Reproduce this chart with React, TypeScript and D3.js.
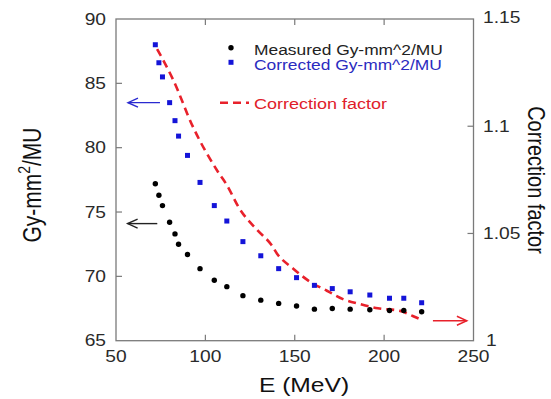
import * as d3 from "d3";

// energies (MeV) where measurements were taken
const energies = [72, 74, 76, 80, 83, 85, 90, 97, 105, 112, 121, 131, 141, 151, 161, 171, 181, 192, 203, 211, 221];
// measured Gy-mm^2/MU
const measured = [77.2, 76.3, 75.5, 74.2, 73.3, 72.5, 71.7, 70.6, 69.7, 69.2, 68.5, 68.15, 67.9, 67.7, 67.45, 67.5, 67.45, 67.4, 67.35, 67.35, 67.25];
// corrected Gy-mm^2/MU
const corrected = [88.0, 86.6, 85.5, 83.5, 82.1, 80.9, 79.4, 77.3, 75.5, 74.3, 72.7, 71.6, 70.6, 69.9, 69.3, 69.05, 68.8, 68.55, 68.3, 68.3, 67.95];
// correction factor curve (right axis)
const cfEnergy = [73, 82, 93, 107, 112, 119, 129, 137, 140, 149, 158.5, 168, 177, 186.5, 196.5, 209, 216, 221];
const cfValue = [1.136, 1.1216, 1.0998, 1.0788, 1.0726, 1.0617, 1.0516, 1.0446, 1.0407, 1.0337, 1.0275, 1.0233, 1.0194, 1.0171, 1.0151, 1.0139, 1.0115, 1.0097];

const xTicks = [50, 100, 150, 200, 250];
const yLeftTicks = [65, 70, 75, 80, 85, 90];
const yRightTicks = [1, 1.05, 1.1, 1.15];
const yRightLabels = ["1", "1.05", "1.1", "1.15"];

const legendItems = ["Measured Gy-mm^2/MU", "Corrected Gy-mm^2/MU", "Correction factor"];

const W = 551;
const H = 399;
const margin = { top: 19, right: 77.5, bottom: 58.3, left: 116 };
const SX = 1.2; // the picture is stretched sideways
const FONT = "Arial, 'Liberation Sans', sans-serif";

export default function App() {
  const x = d3.scaleLinear().domain([50, 250]).range([margin.left, W - margin.right]);
  const yL = d3.scaleLinear().domain([65, 90]).range([H - margin.bottom, margin.top]);
  const yR = d3.scaleLinear().domain([1, 1.15]).range([H - margin.bottom, margin.top]);

  const [x0, x1] = x.range();
  const [yb, yt] = yL.range();

  const cfLine = d3
    .line<number>()
    .x((_, i) => x(cfEnergy[i]))
    .y((d) => yR(d))
    .curve(d3.curveMonotoneX);

  const axisColor = "#7a7a7a";
  const labelColor = "#2a2a2a";
  const tick = 6;

  const stretched = (
    key: string,
    tx: number,
    ty: number,
    text: React.ReactNode,
    opts: { size: number; anchor?: string; fill?: string; rotate?: number; dy?: string }
  ) => (
    <g key={key} transform={`translate(${tx},${ty}) scale(${SX},1)${opts.rotate ? ` rotate(${opts.rotate})` : ""}`}>
      <text
        fontFamily={FONT}
        fontSize={opts.size}
        textAnchor={opts.anchor || "start"}
        fill={opts.fill || labelColor}
        dy={opts.dy || "0"}
      >
        {text}
      </text>
    </g>
  );

  const arrow = (key: string, xa: number, xb: number, y: number, color: string) => {
    // arrowhead at xb
    const dir = xb > xa ? 1 : -1;
    return (
      <g key={key} stroke={color} strokeWidth={1.4} fill="none">
        <line x1={xa} x2={xb} y1={y} y2={y} />
        <polyline points={`${xb - dir * 10},${y - 4.5} ${xb},${y} ${xb - dir * 10},${y + 4.5}`} />
      </g>
    );
  };

  return (
    <svg width={W} height={H} style={{ position: "absolute", left: 0, top: 0, background: "#fff" }}>
      {/* frame */}
      <rect x={x0} y={yt} width={x1 - x0} height={yb - yt} fill="none" stroke={axisColor} strokeWidth={1.3} />
      {/* ticks */}
      <g stroke={axisColor} strokeWidth={1.2}>
        {xTicks.slice(1, -1).map((t) => (
          <g key={"xt" + t}>
            <line x1={x(t)} x2={x(t)} y1={yb} y2={yb - tick} />
            <line x1={x(t)} x2={x(t)} y1={yt} y2={yt + tick} />
          </g>
        ))}
        {yLeftTicks.slice(1, -1).map((t) => (
          <line key={"yl" + t} x1={x0} x2={x0 + tick} y1={yL(t)} y2={yL(t)} />
        ))}
        {yRightTicks.slice(1, -1).map((t) => (
          <line key={"yr" + t} x1={x1} x2={x1 - tick} y1={yR(t)} y2={yR(t)} />
        ))}
      </g>
      {/* tick labels */}
      {xTicks.map((t) => stretched("xl" + t, x(t), 361.5, String(t), { size: 16, anchor: "middle" }))}
      {yLeftTicks.map((t) => stretched("yll" + t, 106, yL(t), String(t), { size: 16, anchor: "end", dy: "0.36em" }))}
      {yRightTicks.map((t, i) =>
        stretched("yrl" + t, i === 0 ? 486 : 483, yR(t) - (i === 3 ? 2 : 0), yRightLabels[i], {
          size: 16,
          anchor: "start",
          dy: "0.36em",
        })
      )}
      {/* axis titles */}
      {stretched("xtitle", 304, 392, "E (MeV)", { size: 20.5, anchor: "middle", fill: "#111" })}
      {stretched(
        "yltitle",
        41,
        185,
        <>
          Gy-mm
          <tspan fontSize={14} dy={-9}>2</tspan>
          <tspan dy={9}>/MU</tspan>
        </>,
        { size: 21, anchor: "middle", fill: "#111", rotate: -90 }
      )}
      {stretched("yrtitle", 528, 180, "Correction factor", { size: 20, anchor: "middle", fill: "#111", rotate: 90 })}

      {/* correction factor */}
      <path d={cfLine(cfValue) || ""} fill="none" stroke="#e8212b" strokeWidth={2.6} strokeDasharray="8,5" />
      {/* corrected */}
      {corrected.map((v, i) => (
        <rect key={"c" + i} x={x(energies[i]) - 2.5} y={yL(v) - 2.5} width={5} height={5} fill="#1414d8" />
      ))}
      {/* measured */}
      {measured.map((v, i) => (
        <circle key={"m" + i} cx={x(energies[i])} cy={yL(v)} r={2.7} fill="#000" />
      ))}

      {/* arrows */}
      {arrow("ab", x(74.6), x(56.7), yL(83.5), "#2a2ad0")}
      {arrow("ak", x(73.1), x(56.5), yL(74.1), "#222")}
      {arrow("ar", x(227.3), x(246.3), yR(1.0093), "#e8212b")}

      {/* legend */}
      <circle cx={231} cy={47.7} r={2.7} fill="#000" />
      <rect x={228.5} y={59.8} width={5} height={5} fill="#1414d8" />
      <line x1={220} x2={249} y1={102.7} y2={102.7} stroke="#e8212b" strokeWidth={2.4} strokeDasharray="8,5" />
      {stretched("lg0", 254, 54.5, legendItems[0], { size: 14.5, fill: "#222" })}
      {stretched("lg1", 254, 70.3, legendItems[1], { size: 14.5, fill: "#2b2bc0" })}
      {stretched("lg2", 254, 109, legendItems[2], { size: 15, fill: "#e0202a" })}
    </svg>
  );
}
